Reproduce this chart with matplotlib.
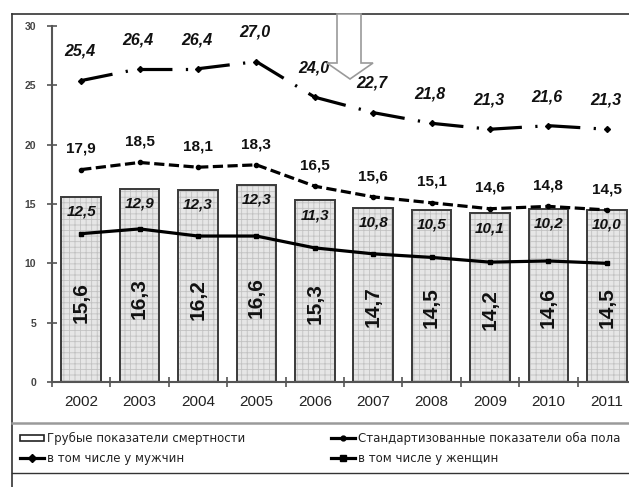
import numpy as np
import matplotlib
matplotlib.use("Agg")
import matplotlib.pyplot as plt
from matplotlib.lines import Line2D
from matplotlib.patches import Patch, Polygon

# Mortality indicators, 2002-2011
years = ["2002", "2003", "2004", "2005", "2006", "2007", "2008", "2009", "2010", "2011"]
crude_rate = [15.6, 16.3, 16.2, 16.6, 15.3, 14.7, 14.5, 14.2, 14.6, 14.5]
std_both = [17.9, 18.5, 18.1, 18.3, 16.5, 15.6, 15.1, 14.6, 14.8, 14.5]
std_men = [25.4, 26.4, 26.4, 27.0, 24.0, 22.7, 21.8, 21.3, 21.6, 21.3]
std_women = [12.5, 12.9, 12.3, 12.3, 11.3, 10.8, 10.5, 10.1, 10.2, 10.0]
y_ticks = [0, 5, 10, 15, 20, 25, 30]

label_crude = "Грубые показатели смертности"
label_both = "Стандартизованные показатели оба пола"
label_men = "в том числе у мужчин"
label_women = "в том числе у женщин"

W, H = 629, 487


def fmt(v):
    return f"{v:.1f}".replace(".", ",")


def fx(px):
    return px / W


def fy(py):
    return 1 - py / H


plt.rcParams['font.family'] = ['Liberation Sans', 'DejaVu Sans']
plt.rcParams['hatch.linewidth'] = 0.6

fig = plt.figure(figsize=(W / 100, H / 100), dpi=100)
ax = fig.add_axes([fx(52), 105 / H, 584 / W, 356 / H])

x = np.arange(len(years))

# bars: hatched fill, then a dark outline on top
ax.bar(x, crude_rate, width=0.68, color='#e6e6e6', edgecolor='#c2c2c2',
       hatch='+++', linewidth=0, zorder=1)
ax.bar(x, crude_rate, width=0.68, fill=False, edgecolor='#3a3a3a',
       linewidth=1.4, zorder=2)

# men: dash-dot line, pattern restarts at every year
men = np.asarray(std_men)
for i in range(len(x) - 1):
    ax.plot(x[i:i + 2], men[i:i + 2], color='black', lw=2.3,
            dashes=(10, 4.2, 0.7, 4.2), zorder=4)
ax.plot(x, men, linestyle='none', color='black', marker='D', ms=3, zorder=4)

ax.plot(x, std_both, color='black', lw=2.3, dashes=(3.2, 1.4),
        marker='o', ms=3, zorder=4)
ax.plot(x, std_women, color='black', lw=2.3, marker='s', ms=3, zorder=4)

# value labels
for xi, v in zip(x, std_men):
    ax.annotate(fmt(v), (xi, v), xytext=(-1, 21), textcoords='offset points',
                ha='center', va='center', fontsize=11.5, fontweight='bold',
                fontstyle='italic', color='#111', zorder=5)
for xi, v in zip(x, std_both):
    ax.annotate(fmt(v), (xi, v), xytext=(0, 15), textcoords='offset points',
                ha='center', va='center', fontsize=11, fontweight='bold',
                color='#111', zorder=5)
for xi, top, v in zip(x, crude_rate, std_women):
    ax.annotate(fmt(v), (xi, top), xytext=(0, -10.5), textcoords='offset points',
                ha='center', va='center', fontsize=11, fontweight='bold',
                fontstyle='italic', color='#111', zorder=5)
for xi, v in zip(x, crude_rate):
    ax.text(xi, v * 0.43, fmt(v), rotation=90, ha='center', va='center',
            fontsize=15, fontweight='bold', color='#111', zorder=5)

# axes styling
ax.set_xlim(-0.5, len(years) - 0.5)
ax.set_ylim(0, 30)
ax.set_yticks(y_ticks)
ax.set_yticklabels([str(t) for t in y_ticks], fontsize=7.5, fontweight='bold',
                   color='#444')
ax.set_xticks(x)
ax.set_xticklabels(years, fontsize=11, color='#222')
ax.set_xticks(np.arange(len(years)) - 0.5, minor=True)
ax.tick_params(axis='x', which='major', length=0, pad=9)
ax.tick_params(axis='x', which='minor', direction='inout', length=7,
               width=1.2, color='#555')
ax.tick_params(axis='y', direction='inout', length=7, width=1.2,
               color='#555', pad=8)
for side in ('top', 'right'):
    ax.spines[side].set_visible(False)
for side in ('left', 'bottom'):
    ax.spines[side].set_color('#555')
    ax.spines[side].set_linewidth(1.5)
ax.patch.set_visible(False)

# outer frame and legend box
fig.add_artist(Line2D([fx(12), fx(12)], [fy(14), fy(H + 2)], color='#333',
                      lw=1.2, transform=fig.transFigure))
fig.add_artist(Line2D([fx(12), fx(W + 2)], [fy(14), fy(14)], color='#333',
                      lw=1.2, transform=fig.transFigure))
fig.add_artist(Line2D([fx(12), fx(W + 2)], [fy(423), fy(423)], color='#9a9a9a',
                      lw=1.8, transform=fig.transFigure))
fig.add_artist(Line2D([fx(12), fx(W + 2)], [fy(473), fy(473)], color='#333',
                      lw=1.0, transform=fig.transFigure))

# hollow arrow at the top
arrow_px = [(337, 14), (361, 14), (361, 63), (373, 63), (350, 79),
            (327, 63), (337, 63)]
fig.add_artist(Polygon([(fx(a), fy(b)) for a, b in arrow_px], closed=True,
                       facecolor='white', edgecolor='#9a9a9a', lw=1.2,
                       transform=fig.transFigure, zorder=6))

# legends
h_crude = Patch(facecolor='white', edgecolor='#222', lw=1.2)
h_men = Line2D([], [], color='black', lw=2.3, marker='D', ms=4)
h_both = Line2D([], [], color='black', lw=2.3, marker='o', ms=3.5)
h_women = Line2D([], [], color='black', lw=2.3, marker='s', ms=4)

leg_kw = dict(loc='upper left', frameon=False, prop={'family': 'DejaVu Sans', 'size': 8.5},
              handlelength=2.0, handleheight=0.5, handletextpad=0.3,
              labelspacing=0.55, borderpad=0, borderaxespad=0,
              labelcolor='#222')
leg1 = fig.legend([h_crude, h_men], [label_crude, label_men],
                  bbox_to_anchor=(fx(20), fy(432)), **leg_kw)
leg2 = fig.legend([h_both, h_women], [label_both, label_women],
                  bbox_to_anchor=(fx(331), fy(432)), **leg_kw)

fig.savefig("out.png", dpi=100)
